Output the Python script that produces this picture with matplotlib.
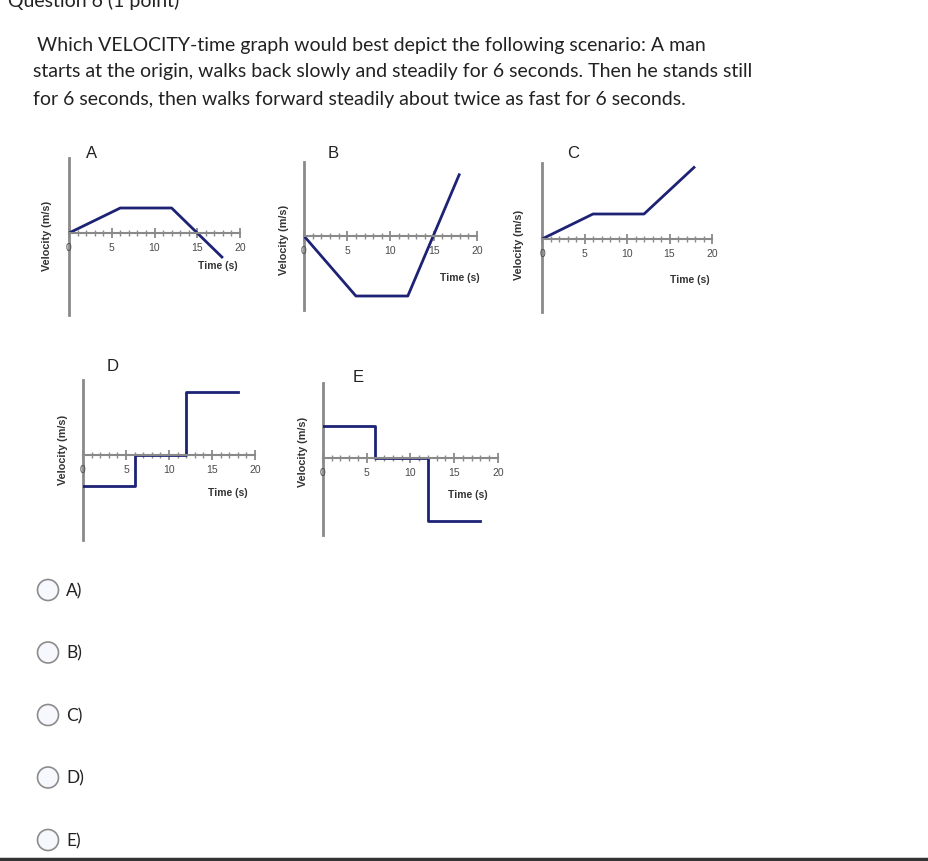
import matplotlib
matplotlib.use("Agg")
import matplotlib.pyplot as plt
from matplotlib.patches import Circle
from matplotlib.ticker import MultipleLocator

# data for the five small velocity-time graphs (velocity in arbitrary units)
t_ramp = [0, 6, 12, 18]
v_a = [0, 1, 1, -1]
v_b = [0, -2.4, -2.4, 2.5]
v_c = [0, 1, 1, 2.9]
t_step = [0, 6, 12, 18]
v_d = [-1.25, 0, 2.5, 2.5]
v_e = [1.3, 0, -2.5, -2.5]
tick_vals = [0, 5, 10, 15, 20]
tick_labels = ["0", "5", "10", "15", "20"]

question = ["Which VELOCITY-time graph would best depict the following scenario: A man",
            "starts at the origin, walks back slowly and steadily for 6 seconds. Then he stands still",
            "for 6 seconds, then walks forward steadily about twice as fast for 6 seconds."]
choices = ["A)", "B)", "C)", "D)", "E)"]

W, H = 929, 861
fig = plt.figure(figsize=(W / 100, H / 100), dpi=100)
fig.patch.set_facecolor("white")

navy = "#1d2275"
gray = "#8a8a8a"
PX = 25.0  # pixels per velocity unit


def make_panel(x0, x20, yax, top, bot):
    ax = fig.add_axes([x0 / W, 1 - bot / H, (x20 - x0) / W, (bot - top) / H])
    ax.set_xlim(0, 20)
    ax.set_ylim(-(bot - yax) / PX, (yax - top) / PX)
    ax.patch.set_alpha(0)
    for s in ["top", "right"]:
        ax.spines[s].set_visible(False)
    ax.spines["bottom"].set_position(("data", 0))
    ax.spines["left"].set_color(gray)
    ax.spines["bottom"].set_color(gray)
    ax.spines["left"].set_linewidth(2)
    ax.spines["bottom"].set_linewidth(1.5)
    ax.spines["left"].set_zorder(1)
    ax.set_yticks([])
    ax.set_xticks(tick_vals)
    ax.set_xticklabels(tick_labels, fontsize=7.5, color="#4a4a4a", family="Liberation Sans")
    ax.xaxis.set_minor_locator(MultipleLocator(1))
    ax.tick_params(axis="x", which="major", direction="inout", length=7, width=1.3, color=gray, pad=4)
    ax.tick_params(axis="x", which="minor", direction="inout", length=4, width=1, color=gray)
    for lab in ax.get_xticklabels():
        lab.set_zorder(3)
    return ax


def px_text(x, y, s, **kw):
    fig.text(x / W, 1 - y / H, s, **kw)


panels = [
    # x0, x20, yaxis, top, bot, letter pos, time label pos, velocity label pos
    (69, 240, 233, 158, 315, (92, 153), (218, 266), (47, 236)),
    (304, 477, 236, 162, 310, (333, 153), (460, 278), (284, 240)),
    (542, 712, 239, 163, 312, (573, 153), (690, 280), (519, 245)),
    (83, 255, 455, 380, 540, (113, 366), (228, 493), (63, 450)),
    (323, 498, 458, 383, 535, (358, 378), (468, 495), (303, 452)),
]
letters = ["A", "B", "C", "D", "E"]

axes = []
for (x0, x20, yax, top, bot, lp, tp, vp), letter in zip(panels, letters):
    ax = make_panel(x0, x20, yax, top, bot)
    axes.append(ax)
    px_text(lp[0], lp[1], letter, fontsize=12, family="Liberation Sans", ha="center", va="center", color="#222222")
    px_text(tp[0], tp[1], "Time (s)", fontsize=7.5, family="Liberation Sans", weight="bold",
            ha="center", va="center", color="#333333")
    px_text(vp[0], vp[1], "Velocity (m/s)", fontsize=7.8, family="Liberation Sans", weight="bold",
            ha="center", va="center", rotation=90, color="#333333")

axes[0].plot(t_ramp, v_a, color=navy, lw=2, solid_capstyle="butt")
axes[1].plot(t_ramp, v_b, color=navy, lw=2, solid_capstyle="butt")
axes[2].plot(t_ramp, v_c, color=navy, lw=2, solid_capstyle="butt")
axes[3].step(t_step, v_d, where="post", color=navy, lw=2)
axes[4].step(t_step, v_e, where="post", color=navy, lw=2)

# page text
px_text(8, 7, "Question 6 (1 point)", fontsize=14, family="Lato", color="#222222", va="baseline")
for i, line in enumerate(question):
    px_text(37 if i == 0 else 33, 45 + 27 * i, line, fontsize=14, family="Lato",
            color="#222222", va="center")

# radio buttons
over = fig.add_axes([0, 0, 1, 1])
over.set_xlim(0, W)
over.set_ylim(H, 0)
over.axis("off")
over.patch.set_alpha(0)
for i, c in enumerate(choices):
    y = 590 + 62.5 * i
    over.add_patch(Circle((48, y), 10.5, facecolor="#f7f8fe", edgecolor="#8c8c8c", lw=1.2))
    over.text(66, y + 1, c, fontsize=12.5, family="Lato", color="#222222", va="center")
over.plot([0, W], [858.5, 858.5], color="#333333", lw=2.5)

fig.savefig("out.png", dpi=100)
